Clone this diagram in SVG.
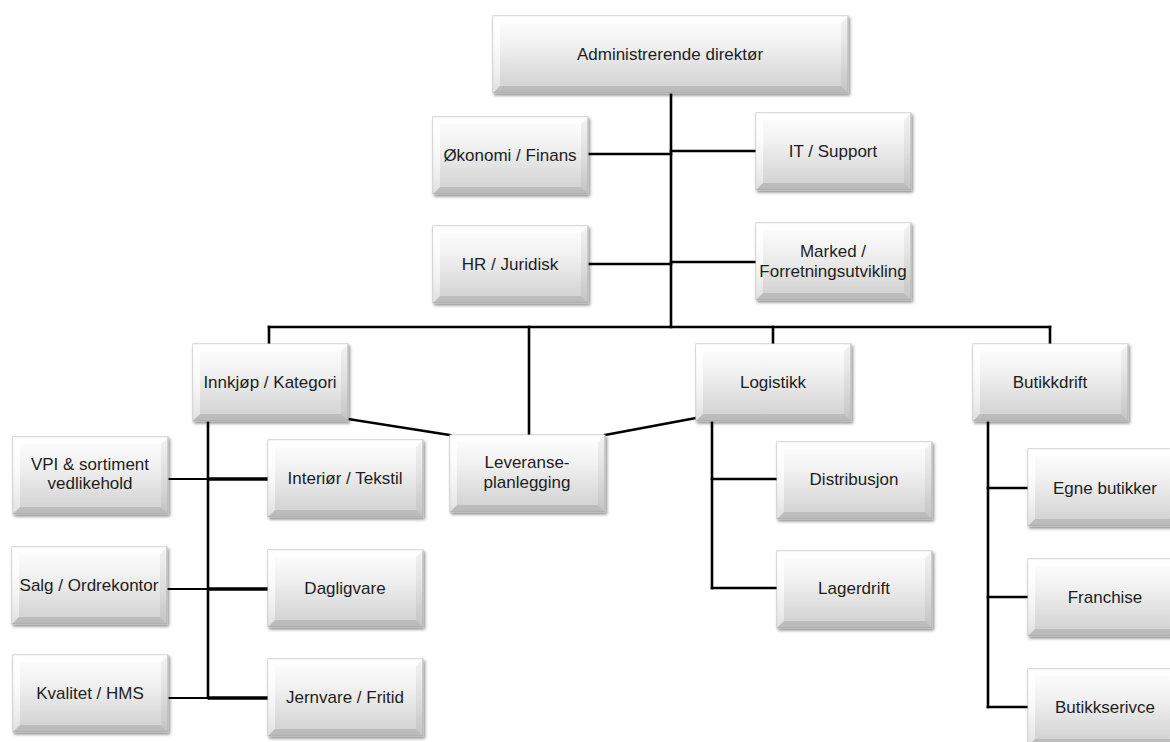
<svg xmlns="http://www.w3.org/2000/svg" xmlns:xlink="http://www.w3.org/1999/xlink" width="1170" height="742" viewBox="0 0 1170 742">
  <style>
    .lbl { font-family: "Liberation Sans", Arial, sans-serif; font-size: 17px; fill: #1e1e1e; text-anchor: middle; }
    .wire { stroke: #000; stroke-width: 2.6; fill: none; stroke-linecap: square; }
    .wire-thin { stroke: #000; stroke-width: 2.2; fill: none; }
    .wire-bold { stroke: #000; stroke-width: 3.4; fill: none; }
  </style>
  <defs>
    <linearGradient id="face" x1="0" y1="0" x2="0" y2="1">
      <stop offset="0" stop-color="#ffffff"/>
      <stop offset="0.35" stop-color="#f2f2f2"/>
      <stop offset="1" stop-color="#cfcfcf"/>
    </linearGradient>
    <linearGradient id="leftBevel" x1="0" y1="0" x2="0" y2="1">
      <stop offset="0" stop-color="#ffffff" stop-opacity="0.95"/>
      <stop offset="1" stop-color="#ffffff" stop-opacity="0.35"/>
    </linearGradient>
    <filter id="shadow" x="-10%" y="-10%" width="125%" height="135%">
      <feDropShadow dx="1.5" dy="2" stdDeviation="1.6" flood-color="#000" flood-opacity="0.45"/>
    </filter>
    <!-- standard bevelled box, 155 x 77 -->
    <symbol id="box" width="157" height="80" overflow="visible">
      <rect x="0" y="0" width="155" height="77" fill="url(#face)" stroke="#bdbdbd" stroke-width="1" filter="url(#shadow)"/>
      <polygon points="0,0 155,0 148,7 7,7" fill="#ffffff" fill-opacity="0.7"/>
      <polygon points="0,0 7,7 7,70 0,77" fill="url(#leftBevel)"/>
      <polygon points="155,0 155,77 148,70 148,7" fill="#000" fill-opacity="0.05"/>
      <polygon points="0,77 155,77 148,70 7,70" fill="#000" fill-opacity="0.1"/>
    </symbol>
  </defs>

  <rect width="1170" height="742" fill="#ffffff"/>

  <!-- connectors -->
  <g id="connectors">
    <line class="wire" x1="671" y1="93" x2="671" y2="327"/>
    <line class="wire" x1="587" y1="154" x2="671" y2="154"/>
    <line class="wire" x1="671" y1="151" x2="756" y2="151"/>
    <line class="wire" x1="587" y1="264" x2="671" y2="264"/>
    <line class="wire" x1="671" y1="262" x2="756" y2="262"/>

    <line class="wire" x1="269" y1="327" x2="1050" y2="327"/>
    <line class="wire" x1="269" y1="327" x2="269" y2="344"/>
    <line class="wire" x1="529" y1="327" x2="529" y2="435"/>
    <line class="wire" x1="773" y1="327" x2="773" y2="344"/>
    <line class="wire" x1="1050" y1="327" x2="1050" y2="344"/>

    <line class="wire" x1="348" y1="419" x2="450" y2="435"/>
    <line class="wire" x1="605" y1="435" x2="696" y2="418"/>

    <line class="wire" x1="208" y1="421" x2="208" y2="698"/>
    <line class="wire-thin" x1="167" y1="479" x2="208" y2="479"/>
    <line class="wire-thin" x1="166" y1="589" x2="208" y2="589"/>
    <line class="wire-thin" x1="167" y1="698" x2="208" y2="698"/>
    <line class="wire-bold" x1="208" y1="479" x2="268" y2="479"/>
    <line class="wire-bold" x1="208" y1="589" x2="268" y2="589"/>
    <line class="wire-bold" x1="208" y1="698" x2="268" y2="698"/>

    <line class="wire" x1="712" y1="421" x2="712" y2="588"/>
    <line class="wire" x1="712" y1="479" x2="777" y2="479"/>
    <line class="wire" x1="712" y1="588" x2="777" y2="588"/>

    <line class="wire" x1="988" y1="421" x2="988" y2="707"/>
    <line class="wire" x1="988" y1="488" x2="1028" y2="488"/>
    <line class="wire" x1="988" y1="597" x2="1028" y2="597"/>
    <line class="wire" x1="988" y1="707" x2="1028" y2="707"/>
  </g>

  <!-- nodes -->
  <g id="administrerende-direktor">
    <rect x="493" y="16" width="355" height="77" fill="url(#face)" stroke="#bdbdbd" stroke-width="1" filter="url(#shadow)"/>
    <polygon points="493,16 848,16 841,23 500,23" fill="#ffffff" fill-opacity="0.7"/>
    <polygon points="493,16 500,23 500,86 493,93" fill="url(#leftBevel)"/>
    <polygon points="848,16 848,93 841,86 841,23" fill="#000" fill-opacity="0.05"/>
    <polygon points="493,93 848,93 841,86 500,86" fill="#000" fill-opacity="0.1"/>
    <text class="lbl" x="670" y="60">Administrerende direktør</text>
  </g>

  <g id="okonomi-finans">
    <use xlink:href="#box" x="433" y="117"/>
    <text class="lbl" x="510" y="161">Økonomi / Finans</text>
  </g>
  <g id="it-support">
    <use xlink:href="#box" x="756" y="113"/>
    <text class="lbl" x="833" y="157">IT / Support</text>
  </g>
  <g id="hr-juridisk">
    <use xlink:href="#box" x="433" y="226"/>
    <text class="lbl" x="510" y="270">HR / Juridisk</text>
  </g>
  <g id="marked">
    <use xlink:href="#box" x="756" y="223"/>
    <text class="lbl" x="833" y="257">Marked /</text>
    <text class="lbl" x="833" y="277">Forretningsutvikling</text>
  </g>

  <g id="innkjop-kategori">
    <use xlink:href="#box" x="193" y="344"/>
    <text class="lbl" x="270" y="388">Innkjøp / Kategori</text>
  </g>
  <g id="leveranseplanlegging">
    <use xlink:href="#box" x="450" y="435"/>
    <text class="lbl" x="527" y="468">Leveranse-</text>
    <text class="lbl" x="527" y="488">planlegging</text>
  </g>
  <g id="logistikk">
    <use xlink:href="#box" x="696" y="344"/>
    <text class="lbl" x="773" y="388">Logistikk</text>
  </g>
  <g id="butikkdrift">
    <use xlink:href="#box" x="973" y="344"/>
    <text class="lbl" x="1050" y="388">Butikkdrift</text>
  </g>

  <g id="vpi-sortiment">
    <use xlink:href="#box" x="13" y="437"/>
    <text class="lbl" x="90" y="470">VPI &amp; sortiment</text>
    <text class="lbl" x="90" y="489">vedlikehold</text>
  </g>
  <g id="salg-ordrekontor">
    <use xlink:href="#box" x="12" y="547"/>
    <text class="lbl" x="89" y="591">Salg / Ordrekontor</text>
  </g>
  <g id="kvalitet-hms">
    <use xlink:href="#box" x="13" y="655"/>
    <text class="lbl" x="90" y="699">Kvalitet / HMS</text>
  </g>

  <g id="interior-tekstil">
    <use xlink:href="#box" x="268" y="440"/>
    <text class="lbl" x="345" y="484">Interiør / Tekstil</text>
  </g>
  <g id="dagligvare">
    <use xlink:href="#box" x="268" y="550"/>
    <text class="lbl" x="345" y="594">Dagligvare</text>
  </g>
  <g id="jernvare-fritid">
    <use xlink:href="#box" x="268" y="659"/>
    <text class="lbl" x="345" y="703">Jernvare / Fritid</text>
  </g>

  <g id="distribusjon">
    <use xlink:href="#box" x="777" y="442"/>
    <text class="lbl" x="854" y="485">Distribusjon</text>
  </g>
  <g id="lagerdrift">
    <use xlink:href="#box" x="777" y="551"/>
    <text class="lbl" x="854" y="594">Lagerdrift</text>
  </g>

  <g id="egne-butikker">
    <use xlink:href="#box" x="1028" y="449"/>
    <text class="lbl" x="1105" y="494">Egne butikker</text>
  </g>
  <g id="franchise">
    <use xlink:href="#box" x="1028" y="559"/>
    <text class="lbl" x="1105" y="603">Franchise</text>
  </g>
  <g id="butikkservice">
    <use xlink:href="#box" x="1028" y="669"/>
    <text class="lbl" x="1105" y="713">Butikkserivce</text>
  </g>
</svg>
